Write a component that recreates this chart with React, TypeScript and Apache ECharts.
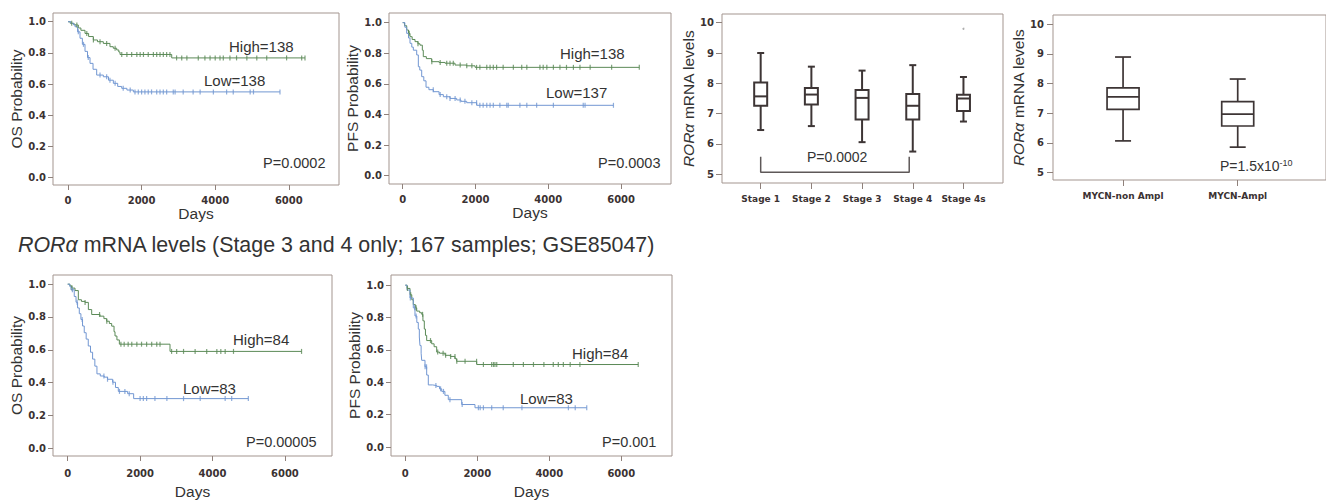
import React, { useEffect, useRef } from "react";
import * as echarts from "echarts";

type Pt = [number, number];

// ---------- Kaplan-Meier curves (day, survival probability) ----------
const osTopHigh: Pt[] = [[0,1],[60,0.99],[150,0.985],[190,0.979],[280,0.96],[350,0.945],[462,0.925],[560,0.905],[688,0.883],[800,0.872],[960,0.861],[1140,0.84],[1230,0.83],[1323,0.819],[1380,0.806],[1413,0.79],[2818,0.768],[6440,0.768]];
const osTopLow: Pt[] = [[0,1],[80,0.99],[150,0.98],[190,0.968],[260,0.935],[326,0.894],[390,0.855],[462,0.81],[530,0.77],[598,0.733],[680,0.695],[779,0.658],[960,0.647],[1100,0.625],[1232,0.605],[1350,0.585],[1459,0.573],[1600,0.562],[1775,0.55],[5760,0.55]];
const osTopHighCensor = [100,240,510,690,870,1050,1280,1460,1600,1730,1870,1960,2050,2180,2320,2410,2500,2590,2680,2770,2950,3090,3230,3540,3720,3860,4000,4130,4220,4400,4580,4860,5130,5400,5940,6350,6440];
const osTopLowCensor = [280,420,550,870,1050,1140,1280,1500,1690,1820,1910,2000,2090,2180,2270,2410,2500,2590,2680,2860,2910,3130,3400,3590,3950,4310,4490,4950,5040,5760];

const pfsTopHigh: Pt[] = [[0,1],[50,0.98],[110,0.952],[160,0.93],[201,0.908],[260,0.89],[339,0.876],[420,0.862],[476,0.853],[540,0.82],[566,0.778],[650,0.765],[796,0.745],[1000,0.74],[1163,0.735],[1438,0.723],[1750,0.718],[1988,0.708],[6500,0.708]];
const pfsTopLow: Pt[] = [[0,1],[60,0.97],[110,0.93],[160,0.9],[201,0.865],[250,0.84],[293,0.82],[385,0.789],[430,0.712],[470,0.69],[522,0.647],[580,0.62],[641,0.578],[720,0.562],[843,0.549],[1000,0.53],[1117,0.516],[1300,0.505],[1484,0.495],[1600,0.486],[1759,0.477],[2033,0.46],[5790,0.46]];
const pfsTopHighCensor = [180,420,800,1030,1210,1300,1390,1580,1760,1900,2030,2120,2310,2400,2490,2580,2760,3040,3270,3410,3770,3860,3960,4140,4320,4500,4690,4870,5150,5740,6500];
const pfsTopLowCensor = [840,1030,1210,1300,1440,1580,1710,1900,2030,2120,2210,2310,2400,2490,2670,2860,2900,3220,3410,3680,4140,4960,5010,5790];

const osBotHigh: Pt[] = [[0,1],[60,0.99],[110,0.976],[202,0.961],[294,0.905],[380,0.895],[479,0.889],[571,0.845],[663,0.815],[893,0.805],[1000,0.79],[1077,0.774],[1150,0.76],[1215,0.744],[1280,0.71],[1307,0.684],[1360,0.66],[1427,0.634],[2826,0.59],[6460,0.59]];
const osBotLow: Pt[] = [[0,1],[60,0.985],[89,0.966],[181,0.925],[230,0.89],[273,0.855],[320,0.82],[365,0.785],[410,0.745],[457,0.704],[510,0.665],[568,0.623],[630,0.585],[688,0.543],[750,0.5],[808,0.453],[900,0.44],[1010,0.433],[1100,0.42],[1241,0.402],[1320,0.37],[1398,0.346],[1656,0.332],[1822,0.302],[4990,0.302]];
const osBotHighCensor = [120,480,880,1080,1470,1560,1670,1770,1910,2040,2180,2320,2460,2550,2870,3010,3200,3520,3840,4120,4230,4350,4580,6460];
const osBotLowCensor = [130,260,400,1000,1100,1250,1430,1580,1700,2000,2090,2180,2410,2740,3200,3660,4350,4530,4990];

const pfsBotHigh: Pt[] = [[0,1],[50,0.98],[131,0.941],[180,0.91],[222,0.88],[280,0.86],[317,0.84],[400,0.83],[456,0.82],[490,0.78],[528,0.729],[560,0.69],[594,0.658],[733,0.638],[800,0.62],[872,0.587],[950,0.58],[1103,0.567],[1250,0.56],[1381,0.546],[1427,0.53],[1983,0.51],[6470,0.51]];
const pfsBotLow: Pt[] = [[0,1],[50,0.97],[131,0.921],[222,0.86],[269,0.81],[320,0.77],[361,0.729],[390,0.68],[408,0.627],[440,0.58],[456,0.536],[547,0.496],[594,0.445],[639,0.384],[760,0.38],[872,0.375],[950,0.36],[1011,0.344],[1100,0.32],[1194,0.293],[1567,0.263],[1936,0.243],[5040,0.243]];
const pfsBotHighCensor = [60,150,300,480,700,900,1050,1120,1260,1380,1430,1660,1980,2170,2400,2450,2490,2540,3000,3280,3560,3850,4110,4250,4390,4580,4850,6470];
const pfsBotLowCensor = [140,260,300,550,590,850,980,1060,1240,1580,2030,2080,2170,2400,2720,3240,4530,4720,5040];

const dayTicks = [0, 2000, 4000, 6000];
const probTicks = [0, 0.2, 0.4, 0.6, 0.8, 1.0];

// ---------- Box plots: [low whisker, Q1, median, Q3, high whisker] ----------
const stageCats = ["Stage 1", "Stage 2", "Stage 3", "Stage 4", "Stage 4s"];
const stageBoxes = [
  [6.46, 7.26, 7.57, 8.03, 9.0],
  [6.59, 7.3, 7.63, 7.85, 8.55],
  [6.06, 6.81, 7.52, 7.78, 8.42],
  [5.75, 6.81, 7.26, 7.65, 8.6],
  [6.74, 7.09, 7.5, 7.62, 8.21],
];
const stageOutliers: Pt[] = [[4, 9.8]];
const stageBracket: Pt[] = [[0, 5.58], [0, 5.07], [2.93, 5.07], [2.93, 5.58]];
const mycnCats = ["MYCN-non Ampl", "MYCN-Ampl"];
const mycnBoxes = [
  [6.07, 7.13, 7.55, 7.85, 8.89],
  [5.86, 6.57, 6.97, 7.39, 8.15],
];
const levelTicks = [5, 6, 7, 8, 9, 10];

const GREEN = "#5b8a57";
const BLUE = "#7297d2";
const AXIS = "#8f817b";
const BORDER = "#a3958f";
const TICKTXT = "#3b3232";
const TXT = "#333333";
const BOX = "#3d3535";
const SANS = "'Liberation Sans', Arial, sans-serif";
const BOLD = "'DejaVu Sans', Verdana, sans-serif";

function levelAt(curve: Pt[], d: number): number {
  let v = curve[0][1];
  for (const p of curve) if (p[0] <= d) v = p[1];
  return v;
}

export default function App() {
  const ref = useRef<HTMLDivElement>(null);
  useEffect(() => {
    if (!ref.current) return;
    const chart = echarts.init(ref.current, null, { renderer: "svg" });

    const grids: any[] = [];
    const xAxes: any[] = [];
    const yAxes: any[] = [];
    const series: any[] = [];

    const addKM = (
      g: { left: number; top: number; width: number; height: number },
      xr: [number, number], yr: [number, number], yName: string, yGap: number, xGap: number, xMargin: number,
      high: Pt[], low: Pt[], ch: number[], cl: number[]
    ) => {
      const i = grids.length;
      grids.push({ ...g, show: true, borderColor: BORDER, borderWidth: 1, containLabel: false });
      xAxes.push({
        gridIndex: i, type: "value", min: xr[0], max: xr[1],
        axisLine: { show: false, onZero: false },
        axisTick: { show: true, length: 5, lineStyle: { color: AXIS }, customValues: dayTicks },
        axisLabel: { customValues: dayTicks, formatter: (v: number) => String(Math.round(v)), fontSize: 10, fontWeight: "bold", color: TICKTXT, fontFamily: BOLD, margin: xMargin },
        splitLine: { show: false },
        name: "Days", nameLocation: "middle", nameGap: xGap,
        nameTextStyle: { fontSize: 15.5, fontFamily: SANS, color: TXT },
      });
      yAxes.push({
        gridIndex: i, type: "value", min: yr[0], max: yr[1],
        axisLine: { show: false, onZero: false },
        axisTick: { show: true, length: 5, lineStyle: { color: AXIS }, customValues: probTicks },
        axisLabel: { customValues: probTicks, formatter: (v: number) => v.toFixed(1), fontSize: 10, fontWeight: "bold", color: TICKTXT, fontFamily: BOLD, margin: 7 },
        splitLine: { show: false },
        name: yName, nameLocation: "middle", nameGap: yGap, nameRotate: 90,
        nameTextStyle: { fontSize: 15.5, fontFamily: SANS, color: TXT },
      });
      const add = (curve: Pt[], cens: number[], color: string) => {
        series.push({
          type: "line", xAxisIndex: i, yAxisIndex: i, data: curve, step: "end",
          showSymbol: false, symbol: "none", lineStyle: { color, width: 1 }, silent: true, z: 3,
        });
        series.push({
          type: "scatter", xAxisIndex: i, yAxisIndex: i,
          data: cens.map((d) => [d, levelAt(curve, d)]),
          symbol: "rect", symbolSize: [1.2, 5], itemStyle: { color }, silent: true, z: 4,
        });
      };
      add(high, ch, GREEN);
      add(low, cl, BLUE);
    };

    const addBox = (
      g: { left: number; top: number; width: number; height: number },
      xr: [number, number], yr: [number, number], cats: string[], boxes: number[][],
      yGap: number, boxW: number, capW: number, lw: number, yMargin: number
    ) => {
      const i = grids.length;
      grids.push({ ...g, show: true, borderColor: BORDER, borderWidth: 1, containLabel: false });
      const ticks = cats.map((_, k) => k);
      xAxes.push({
        gridIndex: i, type: "value", min: xr[0], max: xr[1],
        axisLine: { show: false, onZero: false },
        axisTick: { show: true, length: 6, lineStyle: { color: AXIS }, customValues: ticks },
        axisLabel: { customValues: ticks, formatter: (v: number) => cats[Math.round(v)] ?? "", fontSize: 9, fontWeight: "bold", color: TICKTXT, fontFamily: BOLD, margin: 11 },
        splitLine: { show: false },
      });
      yAxes.push({
        gridIndex: i, type: "value", min: yr[0], max: yr[1],
        axisLine: { show: false, onZero: false },
        axisTick: { show: true, length: 6, lineStyle: { color: AXIS }, customValues: levelTicks },
        axisLabel: { customValues: levelTicks, fontSize: 10, fontWeight: "bold", color: TICKTXT, fontFamily: BOLD, margin: yMargin },
        splitLine: { show: false },
        name: "{i|RORα} mRNA levels", nameLocation: "middle", nameGap: yGap, nameRotate: 90,
        nameTextStyle: { fontSize: 15.5, fontFamily: SANS, color: TXT, rich: { i: { fontStyle: "italic", fontSize: 15.5, fontFamily: SANS, color: TXT } } },
      });
      series.push({
        type: "custom", xAxisIndex: i, yAxisIndex: i, silent: true,
        data: boxes.map((b, k) => [k, ...b]),
        encode: { x: 0, y: [1, 2, 3, 4, 5] },
        renderItem: (_p: any, api: any) => {
          const x = api.value(0);
          const pl = api.coord([x, api.value(1)]);
          const p1 = api.coord([x, api.value(2)]);
          const pm = api.coord([x, api.value(3)]);
          const p3 = api.coord([x, api.value(4)]);
          const ph = api.coord([x, api.value(5)]);
          const cx = pl[0];
          const st = { stroke: BOX, lineWidth: lw, fill: "none" };
          return {
            type: "group",
            children: [
              { type: "line", shape: { x1: cx, y1: ph[1], x2: cx, y2: p3[1] }, style: st },
              { type: "line", shape: { x1: cx, y1: p1[1], x2: cx, y2: pl[1] }, style: st },
              { type: "line", shape: { x1: cx - capW / 2, y1: ph[1], x2: cx + capW / 2, y2: ph[1] }, style: st },
              { type: "line", shape: { x1: cx - capW / 2, y1: pl[1], x2: cx + capW / 2, y2: pl[1] }, style: st },
              { type: "rect", shape: { x: cx - boxW / 2, y: p3[1], width: boxW, height: p1[1] - p3[1] }, style: st },
              { type: "line", shape: { x1: cx - boxW / 2, y1: pm[1], x2: cx + boxW / 2, y2: pm[1] }, style: st },
            ],
          };
        },
      });
      return i;
    };

    addKM({ left: 53, top: 13, width: 286, height: 172 }, [-408, 7364], [-0.047, 1.056], "OS Probability", 26, 20, 10,
      osTopHigh, osTopLow, osTopHighCensor, osTopLowCensor);
    addKM({ left: 389, top: 13, width: 282, height: 171 }, [-376, 7371], [-0.054, 1.063], "PFS Probability", 25, 19, 10,
      pfsTopHigh, pfsTopLow, pfsTopHighCensor, pfsTopLowCensor);
    const sIdx = addBox({ left: 722, top: 14, width: 281, height: 169 }, [-0.763, 4.78], [4.713, 10.287], stageCats, stageBoxes, 20, 13, 7, 2, 8);
    addBox({ left: 1053, top: 15, width: 300, height: 165 }, [-0.611, 1.77], [4.755, 10.303], mycnCats, mycnBoxes, 22, 32, 16, 1.7, 9);
    addKM({ left: 53, top: 275, width: 279, height: 183 }, [-406, 7301], [-0.048, 1.056], "OS Probability", 26, 27, 12,
      osBotHigh, osBotLow, osBotHighCensor, osBotLowCensor);
    addKM({ left: 391, top: 275, width: 281, height: 184 }, [-397, 7408], [-0.055, 1.063], "PFS Probability", 24.5, 27, 12,
      pfsBotHigh, pfsBotLow, pfsBotHighCensor, pfsBotLowCensor);

    series.push({
      type: "line", xAxisIndex: sIdx, yAxisIndex: sIdx, data: stageBracket, symbol: "none", silent: true,
      lineStyle: { color: "#5e5858", width: 1.5 },
    });
    series.push({
      type: "scatter", xAxisIndex: sIdx, yAxisIndex: sIdx, data: stageOutliers, symbol: "circle", symbolSize: 2,
      itemStyle: { color: "#9a9a9a" }, silent: true,
    });

    const t = (text: string, x: number, y: number, size: number, extra: any = {}) => ({
      type: "text", x, y, silent: true,
      style: { text, fontSize: size, fontFamily: SANS, fill: TXT, align: "left", verticalAlign: "middle", textAlign: "left", textVerticalAlign: "middle", ...extra },
    });

    const graphic = [
      t("High=138", 229, 46, 15), t("Low=138", 204, 80, 15), t("P=0.0002", 263, 163, 14.5),
      t("High=138", 560, 53, 15), t("Low=137", 546, 92, 15), t("P=0.0003", 598, 163, 14.5),
      t("P=0.0002", 807, 157, 14),
      t("{a|P=1.5x10}{s|-10}", 1220, 166, 14, { rich: { a: { fontSize: 14, fontFamily: SANS, fill: TXT, color: TXT }, s: { fontSize: 9, fontFamily: SANS, color: TXT, fill: TXT, verticalAlign: "top", padding: [0, 0, 6, 0] } } }),
      t("{i|RORα} mRNA levels (Stage 3 and 4 only; 167 samples; GSE85047)", 18, 245, 21.4, { rich: { i: { fontStyle: "italic", fontSize: 21.4, fontFamily: SANS, color: TXT } } }),
      t("High=84", 233, 339, 15), t("Low=83", 183, 388, 15), t("P=0.00005", 246, 442, 14.5),
      t("High=84", 572, 353, 15), t("Low=83", 520, 398, 15), t("P=0.001", 602, 442, 14.5),
    ];

    chart.setOption({
      animation: false,
      backgroundColor: "#ffffff",
      grid: grids,
      xAxis: xAxes,
      yAxis: yAxes,
      series,
      graphic,
    });
    return () => chart.dispose();
  }, []);
  return <div ref={ref} style={{ position: "absolute", left: 0, top: 0, width: 1326, height: 500 }} />;
}
